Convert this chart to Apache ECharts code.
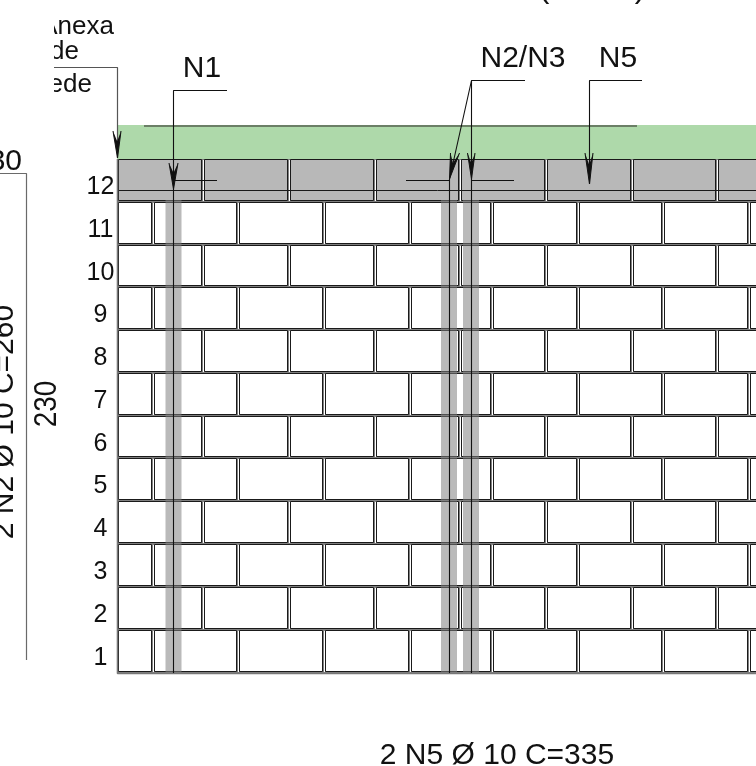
<!DOCTYPE html>
<html><head><meta charset="utf-8">
<style>html,body{margin:0;padding:0;background:#fff}#c{width:756px;height:766px}</style>
<script src="https://cdn.jsdelivr.net/npm/echarts@6/dist/echarts.min.js"></script>
</head><body><div id="c"></div>
<script>
// ---- drawing data, in drawing units of the hidden axes ----
const courses = [12,11,10,9,8,7,6,5,4,3,2,1];
const courseTops = [159,202,245,287,330,373,416,458,501,544,587,630];
const courseBottom = 673;
const wallLeft = 118, wallRight = 770;
const jointsA = [203,289,375,460,546,632,717];          // courses 12,10,8,6,4,2
const jointsB = [153,238,324,410,492,578,663,749];      // courses 11,9,7,5,3,1
const rebars = [173.5,449,471];
const rebarHalf = 8;
const bondBeam = {top:125,bottom:159,lineY:126,lineFrom:144,lineTo:637,innerY:190.5};
const leaders = [
  [[227,90.5],[173.5,90.5],[173.5,673]],
  [[525,80.5],[471.5,80.5],[471.5,673]],
  [[471.5,80.5],[449.5,179],[449.5,673]],
  [[642,80.5],[589.5,80.5],[589.5,184]],
  [[217,180.5],[173.5,180.5]],
  [[406,180.5],[449.5,180.5]],
  [[471.5,180.5],[514,180.5]]
];
const greyLeader = [[54,67.5],[117.5,67.5],[117.5,158]];
const wallEdge = [[117.5,159],[117.5,673.5],[770,673.5]];
const arrows = [
  [[117.5,158],[113,131],[121,131]],
  [[173.5,189],[169,163],[178,163]],
  [[449.5,179],[450.5,153],[459.5,153]],
  [[471.5,179],[467.5,153],[475,153]],
  [[589.5,184],[585,153],[593,153]]
];
const dimension = [[0,173.5],[26.5,173.5],[26.5,660]];
const labels = [
  ["N1",202,69,"center",0,30,1],
  ["N2/N3",523,59,"center",0,30,1],
  ["N5",618,59,"center",0,30,1],
  ["2 N5 Ø 10 C=335",497,756,"center",0,30,1],
  ["2 N2 Ø 10 C=260",5,422,"center",90,30,1],
  ["230",47,404,"center",90,32,0.875],
  ["30",22,162,"right",0,30,1],
  ["(",544,-12,"center",0,32,1],
  [")",640,-12,"center",0,32,1]
];
const clippedLabels = [
  ["Anexa",114,27],["de",79,52],["Parede",92,85]
];
const clipLeft = 54;

const TXT = "#111", FONT = "'Liberation Sans',Arial,sans-serif";
function brickRow(api, top, bottom, joints, fill){
  const out=[]; const xs=[wallLeft].concat(joints);
  for(let i=0;i<xs.length;i++){
    const l = i===0? xs[0]+0.5 : xs[i]+1.5;
    const r = i===xs.length-1? wallRight : xs[i+1]-1.5;
    const a=api.coord([l,top+0.5]), b=api.coord([r,bottom-1.5]);
    out.push({type:'rect',shape:{x:a[0],y:a[1],width:b[0]-a[0],height:b[1]-a[1]},
      style:{fill:fill,stroke:'#1a1a1a',lineWidth:1}});
  }
  return out;
}
const wallSeries = {
  type:'custom',coordinateSystem:'cartesian2d',silent:true,z:1,clip:false,
  data:courses.map((c,i)=>[i]),
  encode:{x:0},
  renderItem(p,api){
    const i=api.value(0), top=courseTops[i], bot=i===11?courseBottom:courseTops[i+1];
    const joints = i%2===0?jointsA:jointsB;
    const a=api.coord([wallLeft,top]), b=api.coord([wallRight,bot]);
    const ch=[{type:'rect',shape:{x:a[0],y:a[1],width:b[0]-a[0],height:b[1]-a[1]},style:{fill:'#808080'}}];
    joints.forEach(j=>{const q=api.coord([j,top]);
      ch.push({type:'rect',shape:{x:q[0],y:a[1]+1,width:1,height:b[1]-a[1]-2},style:{fill:'#fff'}});});
    return {type:'group',children:ch.concat(brickRow(api,top,bot,joints,i===0?'#b8b8b8':'#fff'))};
  }
};
const beamSeries = {
  type:'custom',coordinateSystem:'cartesian2d',silent:true,z:2,clip:false,data:[[0]],encode:{x:0},
  renderItem(p,api){
    const a=api.coord([117,bondBeam.top]), b=api.coord([wallRight,bondBeam.bottom]);
    const l1=api.coord([bondBeam.lineFrom,bondBeam.lineY]), l2=api.coord([bondBeam.lineTo,bondBeam.lineY]);
    const m1=api.coord([wallLeft,bondBeam.innerY]), m2=api.coord([wallRight,bondBeam.innerY]);
    return {type:'group',children:[
      {type:'rect',shape:{x:a[0],y:a[1],width:b[0]-a[0],height:b[1]-a[1]},style:{fill:'#aed9aa'}},
      {type:'line',shape:{x1:l1[0],y1:l1[1],x2:l2[0],y2:l2[1]},style:{stroke:'#55604f',lineWidth:1.6}},
      {type:'line',shape:{x1:m1[0],y1:m1[1],x2:m2[0],y2:m2[1]},style:{stroke:'#1a1a1a',lineWidth:1}}
    ]};
  }
};
const rebarSeries = {
  type:'custom',coordinateSystem:'cartesian2d',silent:true,z:3,clip:false,
  data:rebars.map(x=>[x]),encode:{x:0},
  renderItem(p,api){
    const x=api.value(0), a=api.coord([x-rebarHalf,courseTops[1]-2]), b=api.coord([x+rebarHalf,courseBottom+1]);
    return {type:'rect',shape:{x:a[0],y:a[1],width:b[0]-a[0],height:b[1]-a[1]},style:{fill:'rgba(128,128,128,0.54)'}};
  }
};
const lineSeries=(d,color,w)=>({
  type:'line',data:d,symbol:'none',silent:true,z:4,clip:false,animation:false,
  lineStyle:{color:color,width:w}
});
const arrowSeries = {
  type:'custom',coordinateSystem:'cartesian2d',silent:true,z:5,clip:false,
  data:arrows.map((a,i)=>[i]),encode:{x:0},
  renderItem(p,api){
    const [t,b1,b2]=arrows[api.value(0)];
    const T=api.coord(t),A=api.coord(b1),B=api.coord(b2);
    const mx=(A[0]+B[0])/2,my=(A[1]+B[1])/2;
    const N=[T[0]+(mx-T[0])*0.62,T[1]+(my-T[1])*0.62];
    return {type:'group',children:[
      {type:'polygon',shape:{points:[A,T,B,N]},style:{fill:'#111'}},
      {type:'polyline',shape:{points:[A,T,B]},style:{stroke:'#111',lineWidth:1,fill:'none'}}
    ]};
  }
};
const textEl=(api,t,x,y,align,rot,size,sx)=>{const q=api.coord([x,y]);return {
  type:'text',x:q[0],y:q[1],rotation:rot*Math.PI/180,scaleX:sx||1,
  style:{text:t,fill:TXT,font:size+"px "+FONT,textAlign:align,textVerticalAlign:'middle'}};};
const labelSeries = {
  type:'custom',coordinateSystem:'cartesian2d',silent:true,z:6,clip:false,
  data:labels.map((l,i)=>[i]),encode:{x:0},
  renderItem(p,api){const l=labels[api.value(0)];return textEl(api,l[0],l[1],l[2],l[3],l[4],l[5],l[6]);}
};
const courseLabelSeries = {
  type:'custom',coordinateSystem:'cartesian2d',silent:true,z:6,clip:false,
  data:courses.map((c,i)=>[i]),encode:{x:0},
  renderItem(p,api){const i=api.value(0);
    return textEl(api,String(courses[i]),100.5,courseTops[i]+28.5,'center',0,25);}
};
const clippedSeries = {
  type:'custom',coordinateSystem:'cartesian2d',silent:true,z:6,clip:false,
  data:clippedLabels.map((l,i)=>[i]),encode:{x:0},
  renderItem(p,api){const l=clippedLabels[api.value(0)];
    const g=textEl(api,l[0],l[1],l[2],'right',0,26);
    const o=api.coord([clipLeft,0]);
    return {type:'group',clipPath:{type:'rect',shape:{x:o[0],y:0,width:200,height:120}},children:[g]};}
};
const chart=echarts.init(document.getElementById('c'),null,{renderer:'canvas'});
chart.setOption({
  animation:false,
  backgroundColor:'#fff',
  grid:{left:0,right:0,top:0,bottom:0},
  xAxis:{type:'value',min:0,max:756,show:false},
  yAxis:{type:'value',min:0,max:766,inverse:true,show:false},
  series:[wallSeries,beamSeries,rebarSeries,
    lineSeries(wallEdge,'#777',1.6),lineSeries(dimension,'#6a6a6a',1.2),lineSeries(greyLeader,'#555',1.2),
    ...leaders.map(l=>lineSeries(l,'#111',1.1)),
    arrowSeries,labelSeries,courseLabelSeries,clippedSeries]
});
</script></body></html>
